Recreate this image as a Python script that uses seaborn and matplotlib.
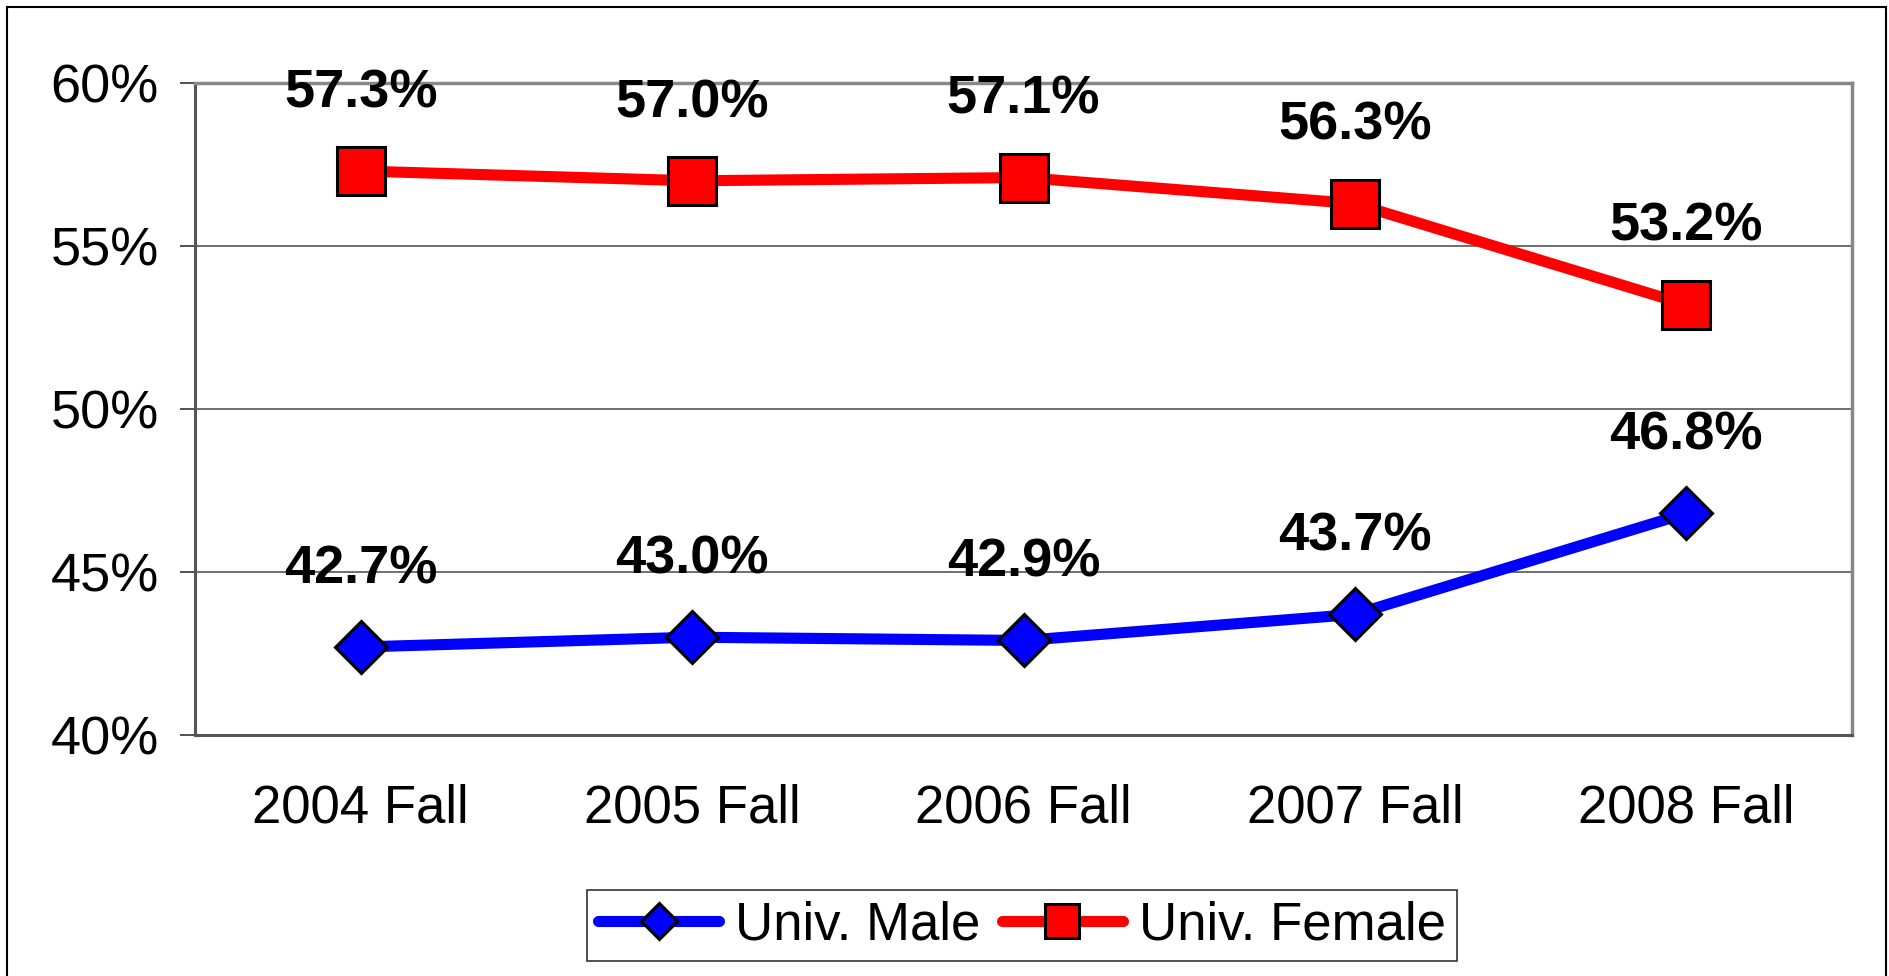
import numpy as np
import pandas as pd
import matplotlib
matplotlib.use("Agg")
from matplotlib import pyplot as plt
from matplotlib.patches import Rectangle
from matplotlib.ticker import PercentFormatter
import seaborn as sns

terms = ["2004 Fall", "2005 Fall", "2006 Fall", "2007 Fall", "2008 Fall"]
male = [0.427, 0.430, 0.429, 0.437, 0.468]
female = [0.573, 0.570, 0.571, 0.563, 0.532]

sns.set_style("white")
plt.rcParams['font.family'] = ['Liberation Sans', 'DejaVu Sans']

fig = plt.figure(figsize=(18.89, 9.76), dpi=100)
ax = fig.add_axes([195 / 1889, 1 - 735 / 976, (1852 - 195) / 1889, (735 - 83) / 976])

df_m = pd.DataFrame({"term": terms, "share": male})
df_f = pd.DataFrame({"term": terms, "share": female})

sns.lineplot(data=df_m, x="term", y="share", ax=ax, sort=False,
             color="#0000ff", lw=8, marker="D", markersize=26.5,
             markerfacecolor="#0000ff", markeredgecolor="black",
             markeredgewidth=2.2, label="Univ. Male", zorder=4)
sns.lineplot(data=df_f, x="term", y="share", ax=ax, sort=False,
             color="#ff0000", lw=8, marker="s", markersize=35,
             markerfacecolor="#ff0000", markeredgecolor="black",
             markeredgewidth=2.2, label="Univ. Female", zorder=4)

# value labels above each point
for vals in (male, female):
    for i, v in enumerate(vals):
        ax.annotate(f"{v * 100:.1f}%", (i, v), xytext=(0, 56),
                    textcoords="offset points", ha="center", va="center",
                    fontsize=39, fontweight="bold", color="black", zorder=5)

ax.set_xlim(-0.5, 4.5)
ax.set_ylim(0.40, 0.60)
ax.set_yticks(np.arange(0.40, 0.601, 0.05))
ax.yaxis.set_major_formatter(PercentFormatter(1.0, decimals=0))
ax.set_xticks(range(len(terms)))
ax.set_xticklabels(terms)
ax.set_xticks(np.arange(-0.5, len(terms), 1.0), minor=True)
ax.set_xlabel("")
ax.set_ylabel("")

ax.grid(axis="y", color="#555555", lw=1.2)
ax.grid(axis="x", visible=False)
ax.set_axisbelow(True)

ax.tick_params(axis="x", which="major", length=0, pad=35, labelsize=38,
               labelcolor="black")
ax.tick_params(axis="x", which="minor", length=11, width=1.2,
               color="#333333", direction="out")
ax.tick_params(axis="y", which="major", length=11, width=1.2,
               color="#333333", direction="out", pad=15, labelsize=39,
               labelcolor="black", left=True)

for side in ("left", "bottom"):
    ax.spines[side].set_color("#555555")
    ax.spines[side].set_linewidth(2.2)
for side in ("top", "right"):
    ax.spines[side].set_color("#888888")
    ax.spines[side].set_linewidth(2.5)

leg = ax.legend(loc="center", bbox_to_anchor=(1022 / 1889, 0.052),
                bbox_transform=fig.transFigure, ncol=2, fontsize=38,
                frameon=True, fancybox=False, edgecolor="black",
                handlelength=2.3, handletextpad=0.3, columnspacing=0.4,
                borderpad=0.2, borderaxespad=0)
leg.get_frame().set_linewidth(1.2)
for t in leg.get_texts():
    t.set_color("black")
for h in leg.legend_handles:
    h.set_markersize(h.get_markersize() * 0.68)

# outer chart border
fig.patches.append(Rectangle((7 / 1889, -0.05), (1886 - 7) / 1889, 1 - 7 / 976 + 0.05,
                             transform=fig.transFigure, fill=False,
                             edgecolor="black", lw=1.5))

fig.savefig("out.png", dpi=100)
